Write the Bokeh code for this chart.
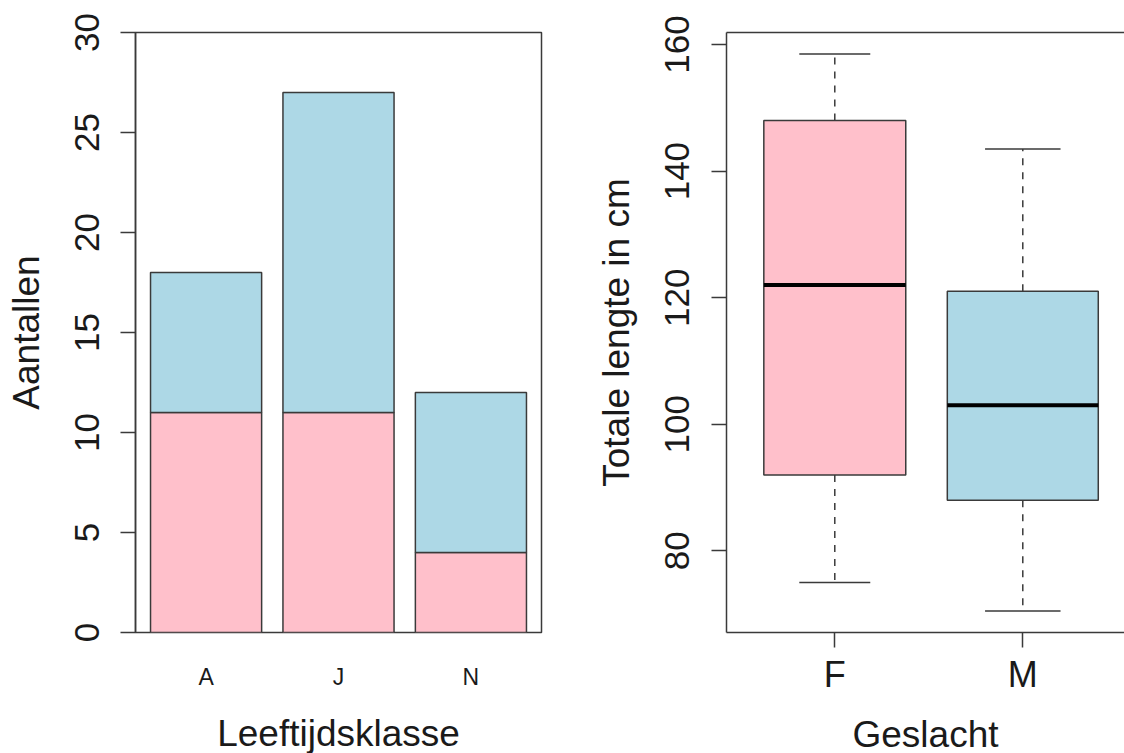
from bokeh.plotting import figure
from bokeh.models import FactorRange, Range1d, FixedTicker, LinearAxis, ColumnDataSource
from bokeh.layouts import row
from bokeh.embed import file_html
from bokeh.resources import INLINE

# ---- data ----
age_classes = ["A", "J", "N"]
female_counts = [11, 11, 4]
male_counts = [7, 16, 8]
count_ticks = [0, 5, 10, 15, 20, 25, 30]

sexes = ["F", "M"]
lower_whisker = [75, 70.5]
q1 = [92, 88]
median = [122, 103]
q3 = [148, 121]
upper_whisker = [158.5, 143.5]
length_ticks = [80, 100, 120, 140, 160]

# ---- style ----
FONT = "Liberation Sans"
PINK = "#FFC0CB"
BLUE = "#ADD8E6"
LINE = "#3a3a3a"
TXT = "#1a1a1a"
box_widths = [0.755, 0.803]


def style_axis(ax, tick_size, title_size):
    ax.major_label_text_font = FONT
    ax.major_label_text_font_size = tick_size
    ax.major_label_text_color = TXT
    ax.axis_label_text_font = FONT
    ax.axis_label_text_font_size = title_size
    ax.axis_label_text_font_style = "normal"
    ax.axis_label_text_color = TXT
    ax.minor_tick_line_color = None
    ax.major_tick_in = 0
    ax.major_tick_out = 15
    ax.major_tick_line_color = LINE
    ax.major_tick_line_width = 1.5
    ax.axis_line_color = LINE
    ax.axis_line_width = 1.5


# ---- left: stacked bars ----
p1 = figure(
    x_range=FactorRange(factors=age_classes, range_padding=0.033, range_padding_units="absolute"),
    y_range=Range1d(0, 30),
    frame_width=406, frame_height=600,
    min_border_left=135, min_border_right=19, min_border_top=32, min_border_bottom=113,
    output_backend="svg", toolbar_location=None,
)
src = ColumnDataSource(dict(klasse=age_classes, F=female_counts, M=male_counts))
p1.vbar_stack(["F", "M"], x="klasse", width=0.839, source=src,
              fill_color=[PINK, BLUE], line_color=LINE, line_width=1.5)
p1.xgrid.visible = False
p1.ygrid.visible = False
p1.outline_line_color = LINE
p1.outline_line_width = 1.5
p1.outline_line_alpha = 1

ya = p1.yaxis[0]
style_axis(ya, "35px", "37px")
ya.ticker = FixedTicker(ticks=count_ticks)
ya.major_label_orientation = "vertical"
ya.major_label_standoff = 22
ya.axis_label = "Aantallen"
ya.axis_label_standoff = 25

xa = p1.xaxis[0]
style_axis(xa, "23px", "37px")
xa.major_tick_line_color = None
xa.major_tick_out = 0
xa.axis_line_color = None
xa.major_label_standoff = 31
xa.axis_label = "Leeftijdsklasse"
xa.axis_label_standoff = 20

# ---- right: boxplot ----
pos = [i + 1 for i in range(len(sexes))]
p2 = figure(
    x_range=Range1d(0.424, 2.541),
    y_range=Range1d(67.1, 161.9),
    frame_width=398, frame_height=600,
    min_border_left=166, min_border_right=0, min_border_top=32, min_border_bottom=113,
    output_backend="svg", toolbar_location=None,
)
p2.xgrid.visible = False
p2.ygrid.visible = False
p2.outline_line_color = None

half_w = [w / 2 for w in box_widths]
cap_half = [w / 4 for w in box_widths]
bsrc = ColumnDataSource(dict(
    x=pos, lw=lower_whisker, q1=q1, med=median, q3=q3, uw=upper_whisker,
    w=box_widths,
    x0=[x - h for x, h in zip(pos, half_w)], x1=[x + h for x, h in zip(pos, half_w)],
    c0=[x - h for x, h in zip(pos, cap_half)], c1=[x + h for x, h in zip(pos, cap_half)],
    color=[PINK, BLUE],
))
# whiskers (dashed)
p2.segment(x0="x", y0="q3", x1="x", y1="uw", source=bsrc, line_color=LINE, line_width=1.5, line_dash="7 7")
p2.segment(x0="x", y0="q1", x1="x", y1="lw", source=bsrc, line_color=LINE, line_width=1.5, line_dash="7 7")
# caps
p2.segment(x0="c0", y0="uw", x1="c1", y1="uw", source=bsrc, line_color=LINE, line_width=1.5)
p2.segment(x0="c0", y0="lw", x1="c1", y1="lw", source=bsrc, line_color=LINE, line_width=1.5)
# boxes
p2.vbar(x="x", width="w", bottom="q1", top="q3", source=bsrc,
        fill_color="color", line_color=LINE, line_width=1.5)
# medians
p2.segment(x0="x0", y0="med", x1="x1", y1="med", source=bsrc, line_color="black", line_width=4)

ya2 = p2.yaxis[0]
style_axis(ya2, "35px", "37px")
ya2.ticker = FixedTicker(ticks=length_ticks)
ya2.major_label_orientation = "vertical"
ya2.major_label_standoff = 22
ya2.axis_label = "Totale lengte in cm"
ya2.axis_label_standoff = 26

xa2 = p2.xaxis[0]
style_axis(xa2, "36px", "37px")
xa2.ticker = FixedTicker(ticks=pos)
xa2.major_label_overrides = {p: s for p, s in zip(pos, sexes)}
xa2.major_label_standoff = 6
xa2.axis_label = "Geslacht"
xa2.axis_label_standoff = 16

top = LinearAxis(ticker=FixedTicker(ticks=[]), axis_line_color=LINE, axis_line_width=1.5,
                 major_tick_line_color=None, minor_tick_line_color=None,
                 major_label_text_font_size="0px")
p2.add_layout(top, "above")

layout = row(p1, p2)
open("out.html", "w").write(file_html(layout, INLINE))
